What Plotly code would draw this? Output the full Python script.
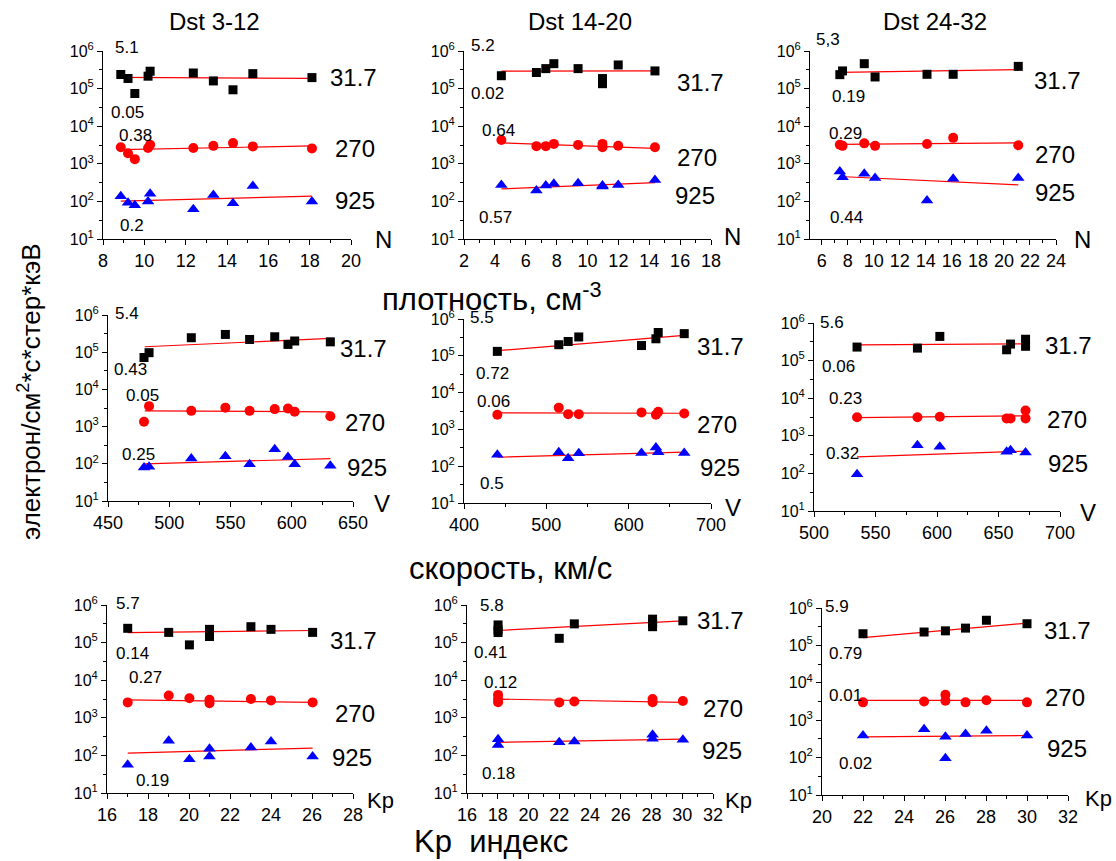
import plotly.graph_objects as go

W, H = 1116, 861          # browser window; page margin removed by post_script

# ---------------- DATA ----------------
energies = ["31.7", "270", "925"]
col_titles = ["Dst 3-12", "Dst 14-20", "Dst 24-32"]
row_titles = ["плотность, см<sup>-3</sup>", "скорость, км/с", "Kp\u00a0 индекс"]
ytick_vals = [1e1, 1e2, 1e3, 1e4, 1e5, 1e6]
ytick_text = ["10<sup>1</sup>", "10<sup>2</sup>", "10<sup>3</sup>",
              "10<sup>4</sup>", "10<sup>5</sup>", "10<sup>6</sup>"]
ytick_minor = [3.16e1, 3.16e2, 3.16e3, 3.16e4, 3.16e5]

# Panel 1: N, Dst 3-12
p1_x = [8.86, 9.21, 9.54, 10.18, 10.28, 12.37, 13.34, 14.29, 15.25, 18.11]
p1_e32 = [2.37e5, 1.86e5, 7.4e4, 2.14e5, 2.9e5, 2.6e5, 1.6e5, 9.3e4, 2.5e5, 1.96e5]
p1_e270 = [2.75e3, 1.9e3, 1.33e3, 2.63e3, 3.2e3, 2.63e3, 3.0e3, 3.55e3, 2.9e3, 2.57e3]
p1_e925 = [138, 92, 79, 100, 160, 62, 148, 89, 257, 100]
p1_fit_x = [8.86, 18.11]
p1_fit_e32 = [2.0e5, 1.86e5]
p1_fit_e270 = [2.37e3, 3.0e3]
p1_fit_e925 = [102, 138]
p1_corr = ["5.1", "0.05", "0.38", "0.2"]

# Panel 2: N, Dst 14-20
p2_x = [4.42, 6.69, 7.30, 7.82, 9.39, 10.97, 10.97, 11.99, 14.37]
p2_e32 = [2.2e5, 2.68e5, 3.4e5, 4.6e5, 3.4e5, 1.85e5, 1.35e5, 4.25e5, 2.95e5]
p2_e270 = [4.3e3, 2.95e3, 2.95e3, 3.38e3, 3.18e3, 3.38e3, 2.75e3, 3.03e3, 2.75e3]
p2_e925 = [275, 195, 265, 295, 305, 265, 250, 275, 370]
p2_fit_x = [4.42, 14.37]
p2_fit_e32 = [2.9e5, 2.95e5]
p2_fit_e270 = [3.6e3, 2.57e3]
p2_fit_e925 = [215, 315]
p2_corr = ["5.2", "0.02", "0.64", "0.57"]

# Panel 3: N, Dst 24-32
p3_x = [7.39, 7.60, 9.27, 10.1, 14.09, 16.1, 21.1]
p3_e32 = [2.35e5, 2.95e5, 4.6e5, 2.04e5, 2.4e5, 2.4e5, 3.9e5]
p3_e270 = [3.2e3, 3.0e3, 3.5e3, 3.0e3, 3.37e3, 4.9e3, 3.1e3]
p3_e925 = [620, 440, 540, 420, 105, 400, 420]
p3_fit_x = [7.39, 21.1]
p3_fit_e32 = [2.7e5, 3.2e5]
p3_fit_e270 = [3.3e3, 3.6e3]
p3_fit_e925 = [460, 275]
p3_corr = ["5,3", "0.19", "0.29", "0.44"]

# Panel 4: V, Dst 3-12
p4_x = [479.4, 483.5, 518.0, 545.8, 565.6, 586.1, 596.9, 602.4, 631.5]
p4_e32 = [7.2e4, 9.7e4, 2.45e5, 3.0e5, 2.2e5, 2.6e5, 1.62e5, 2.0e5, 1.9e5]
p4_e270 = [1.35e3, 3.55e3, 2.65e3, 3.23e3, 2.65e3, 2.95e3, 3.07e3, 2.5e3, 1.9e3]
p4_e925 = [79, 83, 138, 160, 98, 246, 153, 98, 88]
p4_fit_x = [480.0, 631.5]
p4_fit_e32 = [1.4e5, 2.35e5]
p4_fit_e270 = [2.65e3, 2.5e3]
p4_fit_e925 = [100, 138]
p4_corr = ["5.4", "0.43", "0.05", "0.25"]

# Panel 5: V, Dst 14-20
p5_x = [440.5, 515.1, 526.5, 539.4, 615.6, 633.1, 635.9, 667.5]
p5_e32 = [1.32e5, 2.0e5, 2.45e5, 3.25e5, 1.9e5, 2.9e5, 4.3e5, 4.0e5]
p5_e270 = [2.5e3, 3.9e3, 2.6e3, 2.6e3, 2.9e3, 2.5e3, 3.0e3, 2.7e3]
p5_e925 = [205, 240, 165, 225, 230, 320, 240, 230]
p5_fit_x = [440.5, 667.5]
p5_fit_e32 = [1.38e5, 3.6e5]
p5_fit_e270 = [2.8e3, 2.75e3]
p5_fit_e925 = [175, 240]
p5_corr = ["5.5", "0.72", "0.06", "0.5"]

# Panel 6: V, Dst 24-32
p6_x = [535.0, 584.1, 602.3, 656.6, 659.8, 672.0, 672.0]
p6_e32 = [2.29e5, 2.15e5, 4.4e5, 1.94e5, 2.75e5, 3.7e5, 2.4e5]
p6_e270 = [3.1e3, 3.1e3, 3.2e3, 2.9e3, 2.9e3, 4.7e3, 2.9e3]
p6_x925 = [535.0, 584.1, 602.3, 656.6, 659.8, 672.0]
p6_e925 = [95, 560, 510, 375, 415, 360]
p6_fit_x = [535.0, 672.0]
p6_fit_e32 = [2.63e5, 2.8e5]
p6_fit_e270 = [3.05e3, 3.4e3]
p6_fit_e925 = [275, 390]
p6_corr = ["5.6", "0.06", "0.23", "0.32"]

# Panel 7: Kp, Dst 3-12
p7_x = [17.01, 19.01, 20.02, 21.0, 21.0, 23.02, 24.0, 26.03]
p7_e32 = [2.4e5, 1.87e5, 8.7e4, 2.25e5, 1.45e5, 2.65e5, 2.25e5, 1.87e5]
p7_e270 = [2.57e3, 3.9e3, 3.3e3, 3.0e3, 2.45e3, 3.15e3, 2.9e3, 2.57e3]
p7_e925 = [56, 245, 79, 150, 94, 162, 235, 94]
p7_fit_x = [17.01, 26.03]
p7_fit_e32 = [1.84e5, 2.1e5]
p7_fit_e270 = [3.0e3, 2.57e3]
p7_fit_e925 = [115, 157]
p7_corr = ["5.7", "0.14", "0.27", "0.19"]

# Panel 8: Kp, Dst 14-20
p8_x32 = [18.02, 18.02, 18.02, 22.0, 22.98, 28.07, 28.07, 28.07, 30.04]
p8_e32 = [2.95e5, 2.18e5, 1.85e5, 1.3e5, 3.15e5, 4.2e5, 3.2e5, 2.65e5, 3.8e5]
p8_x270 = [18.02, 18.02, 18.02, 22.0, 22.98, 28.07, 28.07, 30.04]
p8_e270 = [4.07e3, 3.17e3, 2.6e3, 2.57e3, 2.7e3, 3.17e3, 2.6e3, 2.8e3]
p8_x925 = [18.02, 18.02, 22.0, 22.98, 28.07, 28.07, 30.04]
p8_e925 = [270, 190, 225, 235, 355, 277, 260]
p8_fit_x = [18.02, 30.04]
p8_fit_e32 = [2.1e5, 3.76e5]
p8_fit_e270 = [3.15e3, 2.57e3]
p8_fit_e925 = [222, 270]
p8_corr = ["5.8", "0.41", "0.12", "0.18"]

# Panel 9: Kp, Dst 24-32
p9_x32 = [22.0, 24.98, 26.02, 27.0, 28.02, 30.0]
p9_e32 = [2.05e5, 2.28e5, 2.45e5, 2.9e5, 4.7e5, 3.8e5]
p9_x = [22.0, 24.98, 26.02, 26.02, 27.0, 28.02, 30.0]
p9_e270 = [3.0e3, 3.17e3, 4.8e3, 3.3e3, 3.0e3, 3.4e3, 3.0e3]
p9_e925 = [390, 570, 360, 96, 430, 520, 390]
p9_fit_x = [22.0, 30.0]
p9_fit_e32 = [1.62e5, 3.95e5]
p9_fit_e270 = [3.37e3, 3.37e3]
p9_fit_e925 = [360, 390]
p9_corr = ["5.9", "0.79", "0.01", "0.02"]

# ---------------- LAYOUT / GEOMETRY ----------------
def fx(p):
    return p / W

def fy(p):
    return 1 - p / H

FONT = "Liberation Sans, Arial, sans-serif"

panels = [
    dict(s=[(p1_x, p1_e32), (p1_x, p1_e270), (p1_x, p1_e925)],
         fit=(p1_fit_x, p1_fit_e32, p1_fit_e270, p1_fit_e925),
         xr=[8, 20], dt=2, t0=8, mdt=1, box=(103, 351, 51, 239), xl="N",
         corr=p1_corr, cpos=[(127, 48), (127, 112), (135, 135), (132, 225)],
         epos=[(353, 77), (355, 148), (355, 201)], xlpos=(383, 240)),
    dict(s=[(p2_x, p2_e32), (p2_x, p2_e270), (p2_x, p2_e925)],
         fit=(p2_fit_x, p2_fit_e32, p2_fit_e270, p2_fit_e925),
         xr=[2, 18], dt=2, t0=2, mdt=1, box=(464, 711, 51, 239), xl="N",
         corr=p2_corr, cpos=[(483, 45), (487, 93), (498, 131), (495, 218)],
         epos=[(700, 83), (697, 157), (695, 195)], xlpos=(732, 237)),
    dict(s=[(p3_x, p3_e32), (p3_x, p3_e270), (p3_x, p3_e925)],
         fit=(p3_fit_x, p3_fit_e32, p3_fit_e270, p3_fit_e925),
         xr=[5.1, 24], dt=2, t0=6, mdt=1, box=(810, 1056, 51, 239), xl="N",
         corr=p3_corr, cpos=[(828, 40), (848, 97), (845, 133), (846, 218)],
         epos=[(1057, 80), (1055, 155), (1055, 193)], xlpos=(1082, 240)),
    dict(s=[(p4_x, p4_e32), (p4_x, p4_e270), (p4_x, p4_e925)],
         fit=(p4_fit_x, p4_fit_e32, p4_fit_e270, p4_fit_e925),
         xr=[450, 650], dt=50, t0=450, mdt=25, box=(108, 353, 315, 501), xl="V",
         corr=p4_corr, cpos=[(127, 313), (130, 369), (142, 395), (138, 454)],
         epos=[(363, 348), (365, 422), (367, 467)], xlpos=(382, 503)),
    dict(s=[(p5_x, p5_e32), (p5_x, p5_e270), (p5_x, p5_e925)],
         fit=(p5_fit_x, p5_fit_e32, p5_fit_e270, p5_fit_e925),
         xr=[400, 700], dt=100, t0=400, mdt=50, box=(464, 711, 319, 503), xl="V",
         corr=p5_corr, cpos=[(482, 317), (492, 373), (493, 402), (492, 483)],
         epos=[(720, 346), (717, 425), (720, 467)], xlpos=(733, 507)),
    dict(s=[(p6_x, p6_e32), (p6_x, p6_e270), (p6_x925, p6_e925)],
         fit=(p6_fit_x, p6_fit_e32, p6_fit_e270, p6_fit_e925),
         xr=[500, 700], dt=50, t0=500, mdt=25, box=(814, 1060, 323, 511), xl="V",
         corr=p6_corr, cpos=[(832, 322), (838, 366), (845, 398), (842, 453)],
         epos=[(1068, 345), (1067, 419), (1068, 463)], xlpos=(1088, 512)),
    dict(s=[(p7_x, p7_e32), (p7_x, p7_e270), (p7_x, p7_e925)],
         fit=(p7_fit_x, p7_fit_e32, p7_fit_e270, p7_fit_e925),
         xr=[16, 28], dt=2, t0=16, mdt=1, box=(107, 353, 605, 793), xl="Kp",
         corr=p7_corr, cpos=[(128, 603), (132, 653), (145, 677), (152, 780)],
         epos=[(353, 640), (355, 713), (352, 757)], xlpos=(380, 800)),
    dict(s=[(p8_x32, p8_e32), (p8_x270, p8_e270), (p8_x925, p8_e925)],
         fit=(p8_fit_x, p8_fit_e32, p8_fit_e270, p8_fit_e925),
         xr=[16, 32], dt=2, t0=16, mdt=1, box=(467, 713, 605, 793), xl="Kp",
         corr=p8_corr, cpos=[(492, 605), (490, 652), (500, 682), (498, 773)],
         epos=[(720, 620), (723, 708), (722, 750)], xlpos=(738, 800)),
    dict(s=[(p9_x32, p9_e32), (p9_x, p9_e270), (p9_x, p9_e925)],
         fit=(p9_fit_x, p9_fit_e32, p9_fit_e270, p9_fit_e925),
         xr=[20, 32], dt=2, t0=20, mdt=1, box=(822, 1068, 608, 795), xl="Kp",
         corr=p9_corr, cpos=[(837, 606), (845, 653), (845, 695), (855, 763)],
         epos=[(1067, 630), (1065, 697), (1067, 748)], xlpos=(1098, 798)),
]

marker_styles = [
    dict(symbol="square", color="black", size=9),
    dict(symbol="circle", color="#ff0000", size=10),
    dict(symbol="triangle-up", color="#0000ff", size=11),
]

fig = go.Figure()
annotations = []
layout_axes = {}


def note(txt, cx, cy, size, **kw):
    annotations.append(dict(text=txt, x=fx(cx), y=fy(cy), xref="paper", yref="paper",
                            xanchor="center", yanchor="middle", showarrow=False,
                            borderpad=0,
                            font=dict(family=FONT, size=size, color="black"), **kw))


for i, p in enumerate(panels, start=1):
    xa = "x" if i == 1 else f"x{i}"
    ya = "y" if i == 1 else f"y{i}"
    l, r, t, b = p["box"]
    fit_x = p["fit"][0]
    for k, (sx, sy) in enumerate(p["s"]):
        fig.add_trace(go.Scatter(x=fit_x, y=p["fit"][k + 1], mode="lines",
                                 line=dict(color="#ff0000", width=1.2),
                                 xaxis=xa, yaxis=ya, showlegend=False,
                                 hoverinfo="skip"))
        fig.add_trace(go.Scatter(x=sx, y=sy, mode="markers",
                                 marker=dict(line=dict(width=0), **marker_styles[k]),
                                 xaxis=xa, yaxis=ya, showlegend=False,
                                 name=energies[k]))
    xkey = "xaxis" if i == 1 else f"xaxis{i}"
    ykey = "yaxis" if i == 1 else f"yaxis{i}"
    layout_axes[xkey] = dict(
        domain=[fx(l), fx(r)], anchor=ya, range=p["xr"], automargin=False,
        tick0=p["t0"], dtick=p["dt"], showgrid=False, zeroline=False,
        showline=True, linecolor="black", linewidth=1,
        ticks="outside", ticklen=5, tickcolor="black",
        minor=dict(ticks="outside", ticklen=3, tickcolor="black", dtick=p["mdt"],
                   tick0=p["t0"], showgrid=False),
        tickfont=dict(family=FONT, size=18, color="black"))
    layout_axes[ykey] = dict(
        domain=[fy(b), fy(t)], anchor=xa, type="log", range=[1, 6], automargin=False,
        tickvals=ytick_vals, ticktext=ytick_text, showgrid=False, zeroline=False,
        showline=True, linecolor="black", linewidth=1,
        ticks="outside", ticklen=5, tickcolor="black",
        minor=dict(ticks="outside", ticklen=3, tickcolor="black",
                   tickvals=ytick_minor, showgrid=False),
        tickfont=dict(family=FONT, size=16, color="black"))
    for txt, (cx, cy) in zip(p["corr"], p["cpos"]):
        note(txt, cx, cy, 17)
    for txt, (cx, cy) in zip(energies, p["epos"]):
        note(txt, cx, cy, 24)
    note(p["xl"], p["xlpos"][0], p["xlpos"][1], 22 if p["xl"] == "Kp" else 24)

for txt, cx in zip(col_titles, [215, 580, 935]):
    note(txt, cx, 21, 24)
for txt, (cx, cy) in zip(row_titles, [(492, 297), (510, 568), (491, 841)]):
    note(txt, cx, cy, 31)
note("электрон/см<sup>2</sup>*с*стер*кэВ", 29, 392, 26, textangle=-90)

fig.update_layout(template="none", width=W, height=H,
                  margin=dict(l=0, r=0, t=0, b=0, autoexpand=False),
                  paper_bgcolor="white", plot_bgcolor="white", showlegend=False,
                  hovermode=False, annotations=annotations, **layout_axes)

fig.write_html("out.html", config={"displayModeBar": False, "staticPlot": True},
               post_script="document.body.style.margin='0px';"
                           "document.body.style.overflow='hidden';")
